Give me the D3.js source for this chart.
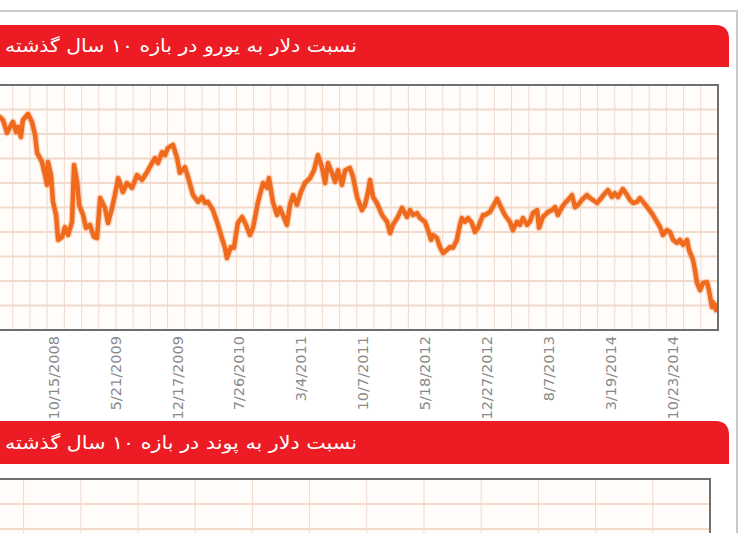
<!DOCTYPE html>
<html>
<head>
<meta charset="utf-8">
<script src="https://cdn.jsdelivr.net/npm/d3@7"></script>
<style>
  html, body { margin: 0; padding: 0; background: #fff; }
  svg { display: block; }
</style>
</head>
<body>
<div id="chart"></div>
<script>
const width = 739;
const height = 533;

const titleEur = "نسبت دلار به یورو در بازه ۱۰ سال گذشته";
const titleGbp = "نسبت دلار به پوند در بازه ۱۰ سال گذشته";

// category axis labels, equally spaced like the source
const tickLabels = ["10/15/2008", "5/21/2009", "12/17/2009", "7/26/2010", "3/4/2011",
    "10/7/2011", "5/18/2012", "12/27/2012", "8/7/2013", "3/19/2014", "10/23/2014"];

// value axis grid (10 bands)
const yTicks = [1.0, 1.065, 1.13, 1.195, 1.26, 1.325, 1.39, 1.455, 1.52, 1.585, 1.65];

const dates = [
    "2008-04-01", "2008-04-11", "2008-04-22", "2008-05-06", "2008-05-17", "2008-05-27", "2008-06-07", "2008-06-14",
    "2008-06-24", "2008-07-01", "2008-07-19", "2008-08-02", "2008-08-13", "2008-08-20", "2008-09-06", "2008-09-17",
    "2008-09-24", "2008-09-27", "2008-10-08", "2008-10-15", "2008-10-26", "2008-11-02", "2008-11-16", "2008-11-26",
    "2008-12-07", "2008-12-21", "2008-12-28", "2009-01-08", "2009-01-15", "2009-01-29", "2009-02-08", "2009-02-22",
    "2009-03-08", "2009-03-19", "2009-03-30", "2009-04-16", "2009-04-27", "2009-05-11", "2009-05-21", "2009-06-01",
    "2009-06-07", "2009-06-17", "2009-07-01", "2009-07-18", "2009-08-04", "2009-08-21", "2009-09-07", "2009-09-24",
    "2009-10-04", "2009-10-14", "2009-10-28", "2009-11-07", "2009-11-17", "2009-12-04", "2009-12-18", "2009-12-28",
    "2010-01-15", "2010-01-26", "2010-02-13", "2010-03-03", "2010-03-17", "2010-03-28", "2010-04-07", "2010-04-25",
    "2010-05-13", "2010-05-27", "2010-06-07", "2010-06-14", "2010-06-28", "2010-07-09", "2010-07-23", "2010-08-07",
    "2010-08-21", "2010-09-04", "2010-09-15", "2010-10-03", "2010-10-21", "2010-11-04", "2010-11-11", "2010-11-25",
    "2010-12-10", "2010-12-20", "2010-12-31", "2011-01-14", "2011-01-25", "2011-02-05", "2011-02-19", "2011-03-05",
    "2011-03-19", "2011-04-06", "2011-04-20", "2011-05-04", "2011-05-18", "2011-05-29", "2011-06-08", "2011-06-22",
    "2011-07-03", "2011-07-13", "2011-07-27", "2011-08-07", "2011-08-24", "2011-09-04", "2011-09-18", "2011-10-05",
    "2011-10-16", "2011-10-27", "2011-11-03", "2011-11-14", "2011-11-28", "2011-12-17", "2012-01-04", "2012-01-15",
    "2012-01-25", "2012-02-12", "2012-02-27", "2012-03-16", "2012-03-27", "2012-04-07", "2012-04-21", "2012-05-02",
    "2012-05-20", "2012-05-31", "2012-06-11", "2012-06-18", "2012-07-02", "2012-07-13", "2012-07-24", "2012-08-07",
    "2012-08-18", "2012-08-29", "2012-09-12", "2012-09-23", "2012-09-30", "2012-10-11", "2012-10-22", "2012-11-05",
    "2012-11-16", "2012-11-27", "2012-12-15", "2012-12-22", "2013-01-09", "2013-01-27", "2013-02-04", "2013-02-18",
    "2013-03-04", "2013-03-22", "2013-04-02", "2013-04-17", "2013-04-27", "2013-05-08", "2013-05-23", "2013-06-02",
    "2013-06-13", "2013-06-28", "2013-07-05", "2013-07-19", "2013-08-06", "2013-08-21", "2013-09-01", "2013-09-11",
    "2013-09-26", "2013-10-07", "2013-10-18", "2013-11-01", "2013-11-12", "2013-11-23", "2013-12-07", "2013-12-25",
    "2014-01-05", "2014-01-16", "2014-01-31", "2014-02-18", "2014-03-01", "2014-03-11", "2014-03-26", "2014-04-05",
    "2014-04-16", "2014-05-03", "2014-05-18", "2014-05-28", "2014-06-08", "2014-06-22", "2014-07-02", "2014-07-13",
    "2014-07-30", "2014-08-17", "2014-08-31", "2014-09-11", "2014-09-21", "2014-10-05", "2014-10-16", "2014-10-27",
    "2014-11-10", "2014-11-20", "2014-12-01", "2014-12-15", "2014-12-22", "2015-01-05", "2015-01-12", "2015-01-19",
    "2015-01-30", "2015-02-09", "2015-02-23", "2015-03-02", "2015-03-13", "2015-03-16", "2015-03-27", "2015-03-30"
];

const usdEur = [
    1.562, 1.565, 1.557, 1.523, 1.539, 1.552, 1.525, 1.539,
    1.512, 1.557, 1.573, 1.552, 1.517, 1.470, 1.446, 1.411,
    1.385, 1.446, 1.411, 1.340, 1.305, 1.239, 1.247, 1.273,
    1.252, 1.287, 1.438, 1.393, 1.332, 1.305, 1.271, 1.279,
    1.247, 1.244, 1.350, 1.324, 1.284, 1.324, 1.358, 1.403,
    1.390, 1.366, 1.390, 1.377, 1.411, 1.398, 1.419, 1.443,
    1.456, 1.443, 1.472, 1.464, 1.483, 1.491, 1.456, 1.417,
    1.432, 1.406, 1.358, 1.340, 1.353, 1.337, 1.340, 1.318,
    1.279, 1.244, 1.218, 1.191, 1.220, 1.218, 1.284, 1.300,
    1.279, 1.252, 1.271, 1.340, 1.390, 1.377, 1.403, 1.340,
    1.305, 1.324, 1.305, 1.279, 1.332, 1.358, 1.332, 1.366,
    1.390, 1.403, 1.424, 1.464, 1.432, 1.390, 1.443, 1.417,
    1.393, 1.424, 1.385, 1.424, 1.430, 1.406, 1.353, 1.318,
    1.332, 1.366, 1.398, 1.353, 1.337, 1.305, 1.287, 1.257,
    1.279, 1.300, 1.324, 1.300, 1.318, 1.305, 1.310, 1.297,
    1.287, 1.265, 1.239, 1.252, 1.244, 1.220, 1.204, 1.212,
    1.220, 1.218, 1.239, 1.279, 1.297, 1.287, 1.297, 1.284,
    1.260, 1.271, 1.305, 1.305, 1.313, 1.337, 1.348, 1.326,
    1.305, 1.287, 1.265, 1.287, 1.279, 1.297, 1.279, 1.287,
    1.310, 1.318, 1.271, 1.300, 1.313, 1.318, 1.326, 1.305,
    1.326, 1.337, 1.345, 1.358, 1.326, 1.332, 1.345, 1.358,
    1.350, 1.345, 1.337, 1.353, 1.363, 1.371, 1.353, 1.363,
    1.353, 1.374, 1.358, 1.345, 1.337, 1.340, 1.350, 1.340,
    1.324, 1.305, 1.287, 1.273, 1.252, 1.265, 1.260, 1.239,
    1.231, 1.239, 1.226, 1.239, 1.212, 1.186, 1.159, 1.125,
    1.106, 1.125, 1.127, 1.106, 1.061, 1.074, 1.053, 1.066
];

// layout
const panelRight = 737;
const barRight = 729;
const barRadius = 14;
const head1 = { top: 25, bottom: 67 };
const head2 = { top: 421, bottom: 464 };
const titleRight = 357;
const titleWidth = 352;

const plot1 = { left: -20, right: 718, top: 85, bottom: 330 };
const plot2 = { left: -20, right: 710, top: 479, bottom: 560 };
const firstTickX = 53;
const tickStep = 61.9;
const colStep1 = 17.2;
const colStep2 = 57.2;

const lineColor = "#f06a1e";
const gridColor = "#f1d9cc";
const frameColor = "#6f6f6f";

const parseDay = d3.timeParse("%Y-%m-%d");
const parseLabel = d3.timeParse("%m/%d/%Y");
const formatLabel = d3.timeFormat("%-m/%-d/%Y");

const series = dates.map((d, i) => ({ date: parseDay(d), value: usdEur[i] }));
const tickDates = tickLabels.map(parseLabel);

const svg = d3.select("#chart")
    .append("svg")
    .attr("width", width)
    .attr("height", height)
    .attr("viewBox", [0, 0, width, height]);

svg.append("rect").attr("width", width).attr("height", height).attr("fill", "#fff");

// page frame
svg.append("path")
    .attr("d", `M0,11 H${panelRight} V${height}`)
    .attr("fill", "none")
    .attr("stroke", "#c9c9c9")
    .attr("stroke-width", 2);

// red title bars
const redBar = (top, bottom) =>
    `M-10,${bottom} V${top} H${barRight - barRadius} Q${barRight},${top} ${barRight},${top + barRadius} V${bottom} Z`;

[[head1, titleEur], [head2, titleGbp]].forEach(([h, title]) => {
    svg.append("path").attr("d", redBar(h.top, h.bottom)).attr("fill", "#ed1c24");
    svg.append("text")
        .attr("x", titleRight)
        .attr("y", (h.top + h.bottom) / 2 + 6)
        .attr("text-anchor", "end")
        .attr("fill", "#fff")
        .attr("font-family", "DejaVu Sans, sans-serif")
        .attr("font-size", 18)
        .attr("textLength", titleWidth)
        .attr("lengthAdjust", "spacingAndGlyphs")
        .text(title);
});

// scales: category-style date axis, labels equally spaced
const x = d3.scaleTime()
    .domain(tickDates)
    .range(tickDates.map((d, i) => firstTickX + i * tickStep));

const y = d3.scaleLinear()
    .domain([yTicks[0], yTicks[yTicks.length - 1]])
    .range([plot1.bottom, plot1.top]);

const drawGrid = (p, colStep) => {
    const g = svg.append("g");
    g.append("rect")
        .attr("x", p.left).attr("y", p.top)
        .attr("width", p.right - p.left).attr("height", p.bottom - p.top)
        .attr("fill", "#fffcfa");
    const nCols = Math.ceil((p.right - p.left) / colStep);
    const gx = d3.scaleLinear().domain([0, nCols]).range([p.right - nCols * colStep, p.right]);
    g.append("g")
        .selectAll("line")
        .data(d3.range(0, nCols))
        .join("line")
        .attr("x1", d => gx(d)).attr("x2", d => gx(d))
        .attr("y1", p.top).attr("y2", p.bottom)
        .attr("stroke", gridColor)
        .attr("stroke-width", 1);
    return g;
};

// chart 1 grid
const g1 = drawGrid(plot1, colStep1);
g1.append("g")
    .selectAll("line")
    .data(yTicks.slice(1, -1))
    .join("line")
    .attr("x1", plot1.left).attr("x2", plot1.right)
    .attr("y1", d => y(d)).attr("y2", d => y(d))
    .attr("stroke", gridColor)
    .attr("stroke-width", 2);

// line
svg.append("clipPath").attr("id", "clip1")
    .append("rect")
    .attr("x", plot1.left).attr("y", plot1.top)
    .attr("width", plot1.right - plot1.left).attr("height", plot1.bottom - plot1.top);

const line = d3.line().x(d => x(d.date)).y(d => y(d.value));

const lineG = svg.append("g").attr("clip-path", "url(#clip1)");
lineG.append("path")
    .datum(series)
    .attr("d", line)
    .attr("fill", "none")
    .attr("stroke", "#f4a574")
    .attr("stroke-opacity", 0.45)
    .attr("stroke-width", 7)
    .attr("stroke-linejoin", "round");
lineG.append("path")
    .datum(series)
    .attr("d", line)
    .attr("fill", "none")
    .attr("stroke", lineColor)
    .attr("stroke-width", 4.5)
    .attr("stroke-linejoin", "round")
    .attr("stroke-linecap", "round");

// frame
svg.append("path")
    .attr("d", `M${plot1.left},${plot1.top} H${plot1.right} V${plot1.bottom} H${plot1.left}`)
    .attr("fill", "none")
    .attr("stroke", frameColor)
    .attr("stroke-width", 2);

// date labels
svg.append("g")
    .attr("transform", `translate(0,${plot1.bottom})`)
    .call(d3.axisBottom(x).tickValues(tickDates).tickFormat(formatLabel).tickSize(0))
    .call(g => g.select(".domain").remove())
    .attr("font-family", "DejaVu Sans, sans-serif")
    .attr("font-size", 14.5)
    .selectAll("text")
    .attr("fill", "#8a8a8a")
    .attr("transform", "rotate(-90)")
    .attr("text-anchor", "end")
    .attr("x", -6)
    .attr("y", 0)
    .attr("dy", "0.36em");

// chart 2 (only its top part is in view)
const y2 = d3.scaleLinear().domain([0, 1]).range([plot2.top, plot2.top + 25]);
const g2 = drawGrid(plot2, colStep2);
g2.append("g")
    .selectAll("line")
    .data([1, 2, 3])
    .join("line")
    .attr("x1", plot2.left).attr("x2", plot2.right)
    .attr("y1", d => y2(d)).attr("y2", d => y2(d))
    .attr("stroke", gridColor)
    .attr("stroke-width", 2);
svg.append("path")
    .attr("d", `M${plot2.left},${plot2.top} H${plot2.right} V${plot2.bottom}`)
    .attr("fill", "none")
    .attr("stroke", frameColor)
    .attr("stroke-width", 2);
</script>
</body>
</html>
